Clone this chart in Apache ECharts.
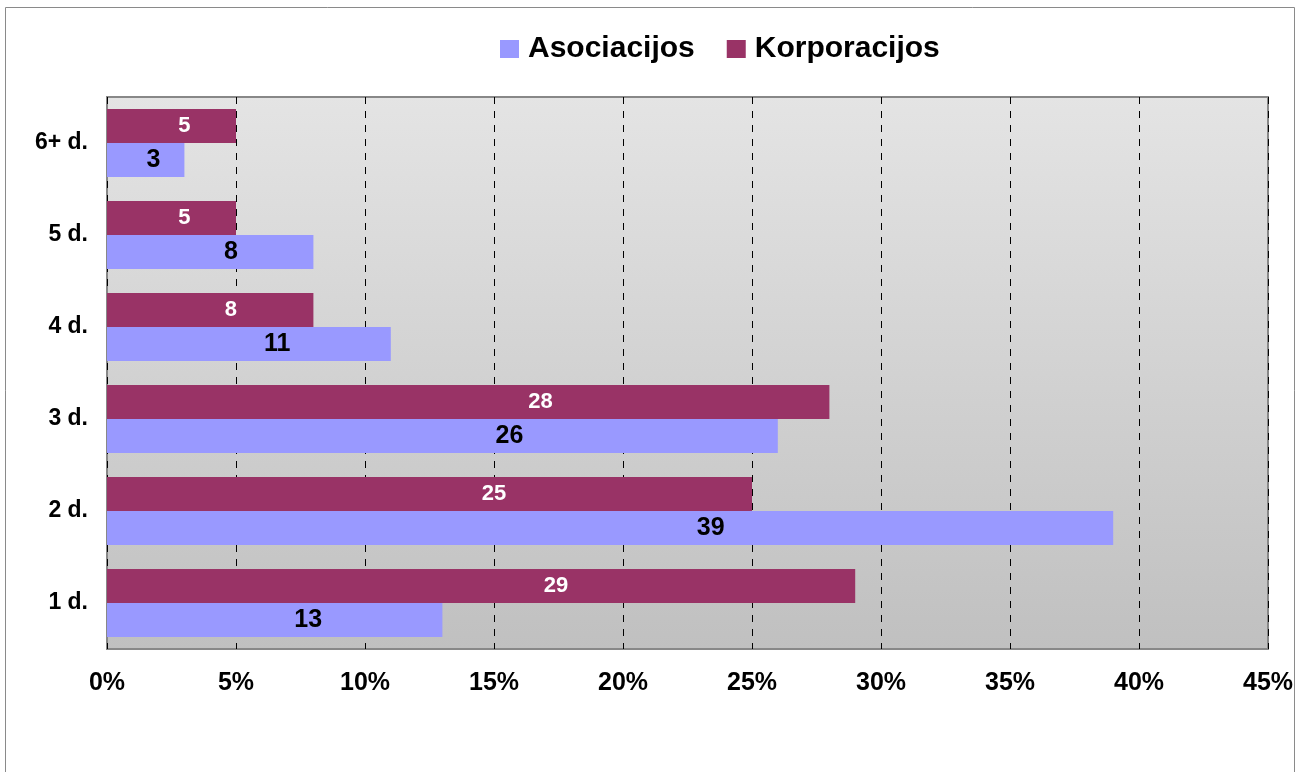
<!DOCTYPE html>
<html>
<head>
<meta charset="utf-8">
<script src="https://cdn.jsdelivr.net/npm/echarts@6/dist/echarts.min.js"></script>
<style>
html,body{margin:0;padding:0;background:#fff;}
#chart{width:1297px;height:772px;}
</style>
</head>
<body>
<div id="chart"></div>
<script>
const categories = ['1 d.', '2 d.', '3 d.', '4 d.', '5 d.', '6+ d.'];
const asociacijos = [13, 39, 26, 11, 8, 3];
const korporacijos = [29, 25, 28, 8, 5, 5];
const seriesNames = ['Asociacijos', 'Korporacijos'];

const chart = echarts.init(document.getElementById('chart'), null, {renderer: 'canvas'});
const font = '"Liberation Sans", Arial, sans-serif';
chart.setOption({
  animation: false,
  textStyle: {fontFamily: font},
  graphic: [{
    type: 'rect', z: -10,
    shape: {x: 5.5, y: 7.5, width: 1289, height: 800},
    style: {fill: 'none', stroke: '#8a8a8a', lineWidth: 1}
  }],
  legend: {
    data: seriesNames,
    top: 29, left: 495,
    itemWidth: 19, itemHeight: 18, itemGap: 32,
    icon: 'rect',
    textStyle: {fontFamily: font, fontWeight: 'bold', fontSize: 30, color: '#000', padding: [0, 0, 0, 4]}
  },
  grid: {
    left: 107, right: 29, top: 97, bottom: 123,
    show: true,
    borderColor: '#888', borderWidth: 2,
    backgroundColor: new echarts.graphic.LinearGradient(0, 0, 0, 1, [
      {offset: 0, color: '#e4e4e4'},
      {offset: 1, color: '#c0c0c0'}
    ])
  },
  xAxis: {
    type: 'value', min: 0, max: 45, interval: 5,
    axisLine: {show: false},
    axisTick: {show: false},
    splitLine: {show: true, lineStyle: {color: '#000', type: [7, 7], width: 1}},
    axisLabel: {formatter: '{value}%', fontFamily: font, fontWeight: 'bold', fontSize: 25, color: '#000', margin: 22}
  },
  yAxis: {
    type: 'category', data: categories,
    axisLine: {show: false},
    axisTick: {show: false},
    axisLabel: {fontFamily: font, fontWeight: 'bold', fontSize: 23, color: '#000', margin: 19}
  },
  series: [
    {
      name: seriesNames[1], type: 'bar', data: korporacijos,
      barGap: '0%', barCategoryGap: '26%',
      itemStyle: {color: '#993366'},
      label: {show: true, position: ['60%', '50%'], align: 'center', verticalAlign: 'middle',
        fontFamily: font, fontWeight: 'bold', fontSize: 22, color: '#fff'}
    },
    {
      name: seriesNames[0], type: 'bar', data: asociacijos,
      barGap: '0%', barCategoryGap: '26%',
      itemStyle: {color: '#9999FF'},
      label: {show: true, position: ['60%', '50%'], align: 'center', verticalAlign: 'middle',
        fontFamily: font, fontWeight: 'bold', fontSize: 25, color: '#000'}
    }
  ]
});
</script>
</body>
</html>
